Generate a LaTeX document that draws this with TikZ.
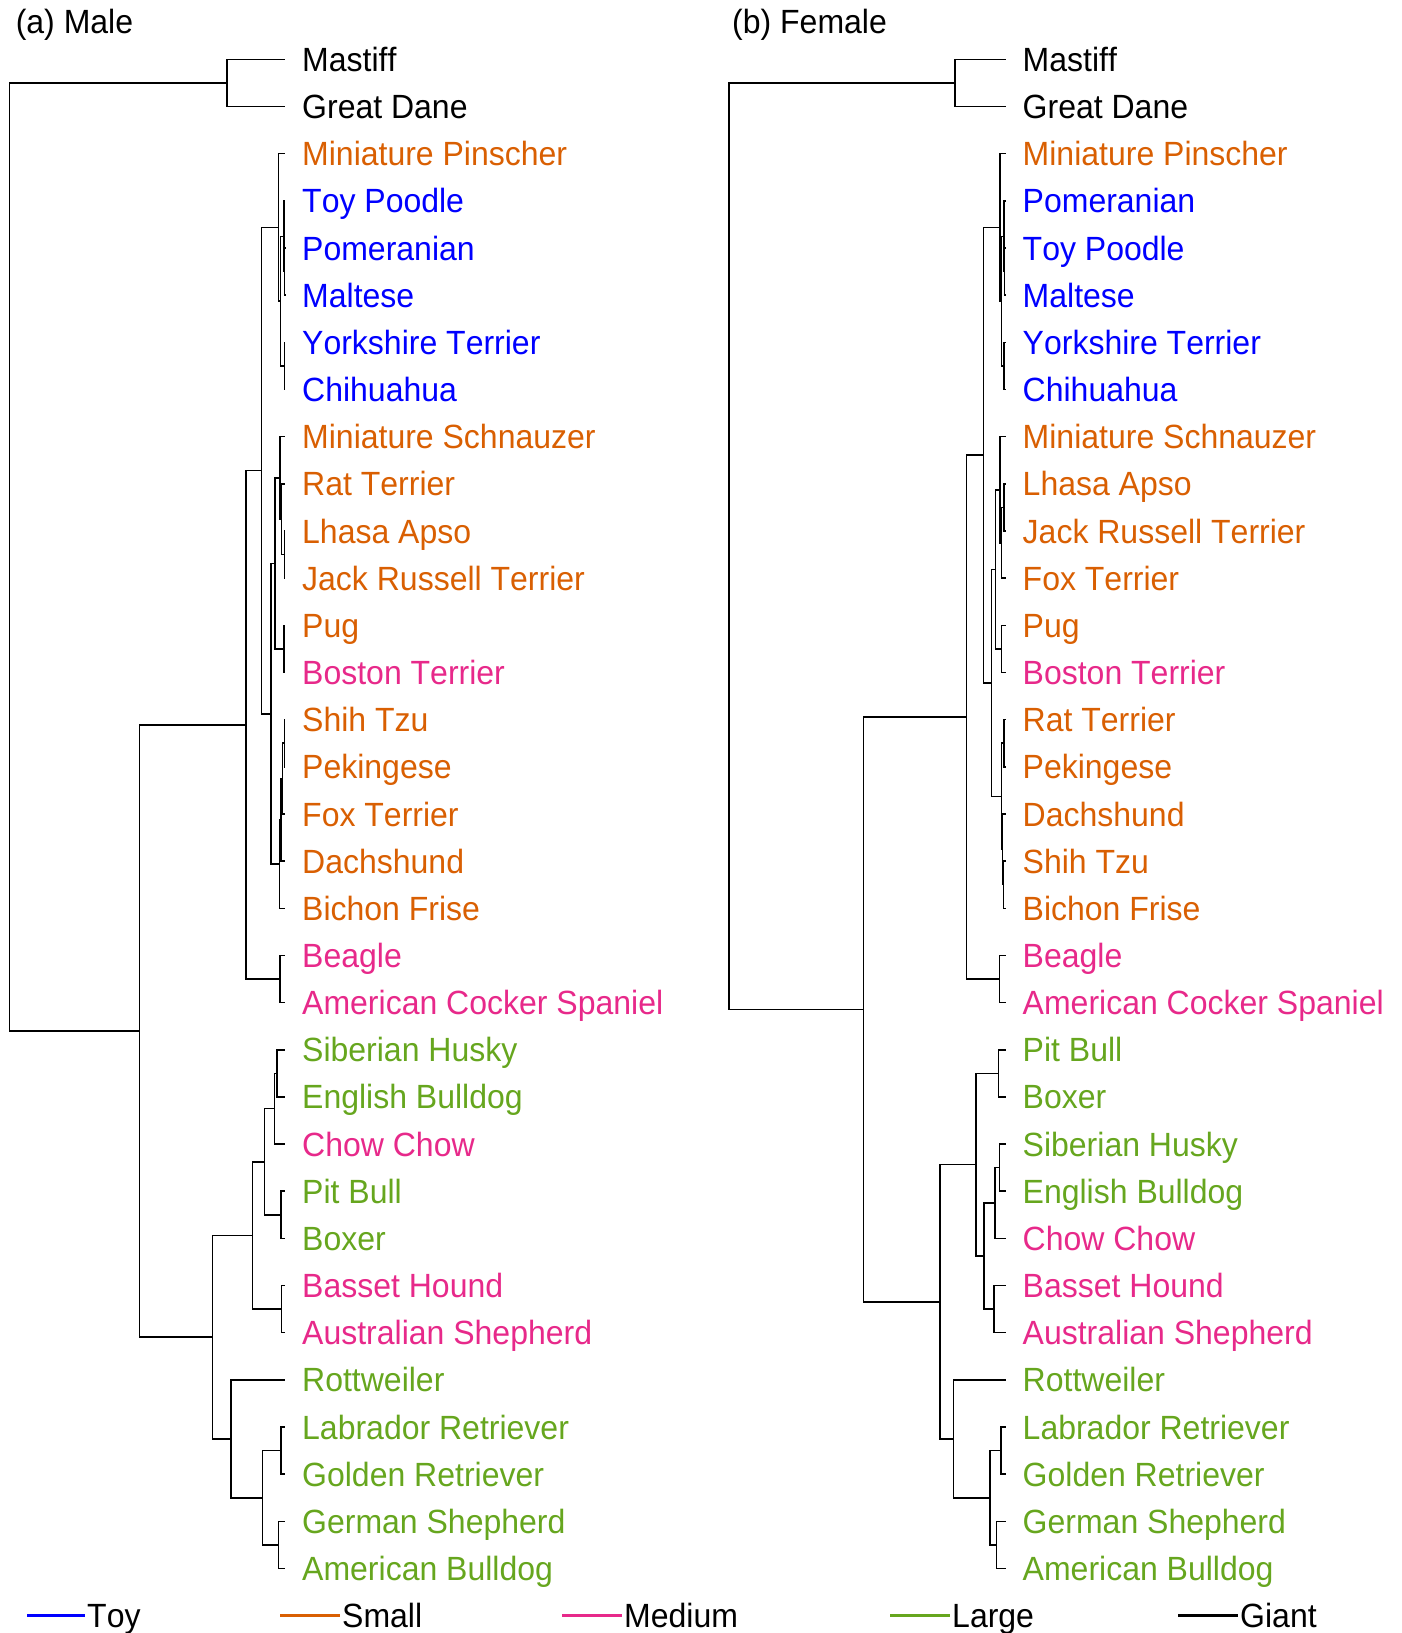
\documentclass[tikz,border=0pt]{standalone}
\usepackage{fontspec}
\setmainfont{Liberation Sans}[Kerning=Off]
\definecolor{toyc}{RGB}{0,0,255}
\definecolor{smallc}{HTML}{D95F02}
\definecolor{medc}{HTML}{E7298A}
\definecolor{largec}{HTML}{66A61E}
\newcommand\tx[1]{\scalebox{1}[1.05]{#1}}
\newcommand\dogleaf[5]{\coordinate (#1) at (#2,#3);
  \node[lab,text=#4] (#1t) at ([shift={(17pt,-12pt)}]#1) {\tx{#5}};}
\newcommand\dogjoin[3]{\draw[tree] (#1) |- (#2) (#1) |- (#3);}
\begin{document}
\begin{tikzpicture}[x=1pt,y=-1pt,
  tree/.style={line width=1.5pt,black},
  lab/.style={anchor=base west,inner sep=0pt,font=\fontsize{32}{38}\selectfont},
  legline/.style={line width=3pt}]
\useasboundingbox (0,0) rectangle (1401,1633);
% titles
\node[lab] (ta) at (15.6,33.6) {\tx{(a) Male}};
\node[lab] (tb) at (732,33.6) {\tx{(b) Female}};
% ---------------- left tree leaves
\dogleaf{L0}{285}{59.4}{black}{Mastiff}
\dogleaf{L1}{285}{106.6}{black}{Great Dane}
\dogleaf{L2}{285}{153.7}{smallc}{Miniature Pinscher}
\dogleaf{L3}{285}{200.9}{toyc}{Toy Poodle}
\dogleaf{L4}{285}{248.0}{toyc}{Pomeranian}
\dogleaf{L5}{285}{295.2}{toyc}{Maltese}
\dogleaf{L6}{285}{342.4}{toyc}{Yorkshire Terrier}
\dogleaf{L7}{285}{389.5}{toyc}{Chihuahua}
\dogleaf{L8}{285}{436.7}{smallc}{Miniature Schnauzer}
\dogleaf{L9}{285}{483.8}{smallc}{Rat Terrier}
\dogleaf{L10}{285}{531.0}{smallc}{Lhasa Apso}
\dogleaf{L11}{285}{578.2}{smallc}{Jack Russell Terrier}
\dogleaf{L12}{285}{625.3}{smallc}{Pug}
\dogleaf{L13}{285}{672.5}{medc}{Boston Terrier}
\dogleaf{L14}{285}{719.6}{smallc}{Shih Tzu}
\dogleaf{L15}{285}{766.8}{smallc}{Pekingese}
\dogleaf{L16}{285}{814.0}{smallc}{Fox Terrier}
\dogleaf{L17}{285}{861.1}{smallc}{Dachshund}
\dogleaf{L18}{285}{908.3}{smallc}{Bichon Frise}
\dogleaf{L19}{285}{955.4}{medc}{Beagle}
\dogleaf{L20}{285}{1002.6}{medc}{American Cocker Spaniel}
\dogleaf{L21}{285}{1049.8}{largec}{Siberian Husky}
\dogleaf{L22}{285}{1096.9}{largec}{English Bulldog}
\dogleaf{L23}{285}{1144.1}{medc}{Chow Chow}
\dogleaf{L24}{285}{1191.2}{largec}{Pit Bull}
\dogleaf{L25}{285}{1238.4}{largec}{Boxer}
\dogleaf{L26}{285}{1285.6}{medc}{Basset Hound}
\dogleaf{L27}{285}{1332.7}{medc}{Australian Shepherd}
\dogleaf{L28}{285}{1379.9}{largec}{Rottweiler}
\dogleaf{L29}{285}{1427.0}{largec}{Labrador Retriever}
\dogleaf{L30}{285}{1474.2}{largec}{Golden Retriever}
\dogleaf{L31}{285}{1521.4}{largec}{German Shepherd}
\dogleaf{L32}{285}{1568.5}{largec}{American Bulldog}
% left internal nodes
\coordinate (gL) at (227,83.0);
\coordinate (lPM) at (284.6,271.6);
\coordinate (lTPM) at (284.0,236.25);
\coordinate (lYC) at (284.3,365.95);
\coordinate (lTOY) at (280.7,301.1);
\coordinate (lPT) at (278.3,227.4);
\coordinate (lLJ) at (284.3,554.6);
\coordinate (lRLJ) at (281.7,519.2);
\coordinate (lSR) at (280,477.95);
\coordinate (lPB) at (284,648.9);
\coordinate (lX3) at (275,563.4);
\coordinate (lSP) at (284.3,743.2);
\coordinate (lSPF) at (282.3,778.6);
\coordinate (lSPFD) at (281,819.85);
\coordinate (lX6) at (279.7,864.1);
\coordinate (lX2) at (271,713.75);
\coordinate (lX1) at (261.7,470.6);
\coordinate (lBC) at (280,979.0);
\coordinate (lX0) at (246,724.8);
\coordinate (lHE) at (277,1073.35);
\coordinate (lHEC) at (274.3,1108.7);
\coordinate (lPiB) at (281,1214.8);
\coordinate (lM1) at (264.3,1161.75);
\coordinate (lBA) at (281.7,1309.15);
\coordinate (lM2) at (252.3,1235.45);
\coordinate (lLG) at (281,1450.6);
\coordinate (lGA) at (278.3,1544.95);
\coordinate (lRet) at (262.3,1497.8);
\coordinate (lRot) at (231,1438.85);
\coordinate (lLarge) at (212.7,1337.15);
\coordinate (lR2) at (139.6,1031.0);
\coordinate (lRoot) at (9.4,557.0);
% left connectors
\dogjoin{gL}{L0}{L1}
\dogjoin{lPM}{L4}{L5}
\dogjoin{lTPM}{L3}{lPM}
\dogjoin{lYC}{L6}{L7}
\dogjoin{lTOY}{lTPM}{lYC}
\dogjoin{lPT}{L2}{lTOY}
\dogjoin{lLJ}{L10}{L11}
\dogjoin{lRLJ}{L9}{lLJ}
\dogjoin{lSR}{L8}{lRLJ}
\dogjoin{lPB}{L12}{L13}
\dogjoin{lX3}{lSR}{lPB}
\dogjoin{lSP}{L14}{L15}
\dogjoin{lSPF}{lSP}{L16}
\dogjoin{lSPFD}{lSPF}{L17}
\dogjoin{lX6}{lSPFD}{L18}
\dogjoin{lX2}{lX3}{lX6}
\dogjoin{lX1}{lPT}{lX2}
\dogjoin{lBC}{L19}{L20}
\dogjoin{lX0}{lX1}{lBC}
\dogjoin{lHE}{L21}{L22}
\dogjoin{lHEC}{lHE}{L23}
\dogjoin{lPiB}{L24}{L25}
\dogjoin{lM1}{lHEC}{lPiB}
\dogjoin{lBA}{L26}{L27}
\dogjoin{lM2}{lM1}{lBA}
\dogjoin{lLG}{L29}{L30}
\dogjoin{lGA}{L31}{L32}
\dogjoin{lRet}{lLG}{lGA}
\dogjoin{lRot}{L28}{lRet}
\dogjoin{lLarge}{lM2}{lRot}
\dogjoin{lR2}{lX0}{lLarge}
\dogjoin{lRoot}{gL}{lR2}
% ---------------- right tree leaves
\dogleaf{R0}{1005.5}{59.4}{black}{Mastiff}
\dogleaf{R1}{1005.5}{106.6}{black}{Great Dane}
\dogleaf{R2}{1005.5}{153.7}{smallc}{Miniature Pinscher}
\dogleaf{R3}{1005.5}{200.9}{toyc}{Pomeranian}
\dogleaf{R4}{1005.5}{248.0}{toyc}{Toy Poodle}
\dogleaf{R5}{1005.5}{295.2}{toyc}{Maltese}
\dogleaf{R6}{1005.5}{342.4}{toyc}{Yorkshire Terrier}
\dogleaf{R7}{1005.5}{389.5}{toyc}{Chihuahua}
\dogleaf{R8}{1005.5}{436.7}{smallc}{Miniature Schnauzer}
\dogleaf{R9}{1005.5}{483.8}{smallc}{Lhasa Apso}
\dogleaf{R10}{1005.5}{531.0}{smallc}{Jack Russell Terrier}
\dogleaf{R11}{1005.5}{578.2}{smallc}{Fox Terrier}
\dogleaf{R12}{1005.5}{625.3}{smallc}{Pug}
\dogleaf{R13}{1005.5}{672.5}{medc}{Boston Terrier}
\dogleaf{R14}{1005.5}{719.6}{smallc}{Rat Terrier}
\dogleaf{R15}{1005.5}{766.8}{smallc}{Pekingese}
\dogleaf{R16}{1005.5}{814.0}{smallc}{Dachshund}
\dogleaf{R17}{1005.5}{861.1}{smallc}{Shih Tzu}
\dogleaf{R18}{1005.5}{908.3}{smallc}{Bichon Frise}
\dogleaf{R19}{1005.5}{955.4}{medc}{Beagle}
\dogleaf{R20}{1005.5}{1002.6}{medc}{American Cocker Spaniel}
\dogleaf{R21}{1005.5}{1049.8}{largec}{Pit Bull}
\dogleaf{R22}{1005.5}{1096.9}{largec}{Boxer}
\dogleaf{R23}{1005.5}{1144.1}{largec}{Siberian Husky}
\dogleaf{R24}{1005.5}{1191.2}{largec}{English Bulldog}
\dogleaf{R25}{1005.5}{1238.4}{medc}{Chow Chow}
\dogleaf{R26}{1005.5}{1285.6}{medc}{Basset Hound}
\dogleaf{R27}{1005.5}{1332.7}{medc}{Australian Shepherd}
\dogleaf{R28}{1005.5}{1379.9}{largec}{Rottweiler}
\dogleaf{R29}{1005.5}{1427.0}{largec}{Labrador Retriever}
\dogleaf{R30}{1005.5}{1474.2}{largec}{Golden Retriever}
\dogleaf{R31}{1005.5}{1521.4}{largec}{German Shepherd}
\dogleaf{R32}{1005.5}{1568.5}{largec}{American Bulldog}
% right internal nodes
\coordinate (rGiant) at (955,83.0);
\coordinate (rTM) at (1004.6,271.6);
\coordinate (rPTM) at (1004,236.25);
\coordinate (rYC) at (1004,365.95);
\coordinate (rTOY) at (1001.7,301.1);
\coordinate (rPT) at (1000,227.4);
\coordinate (rLJ) at (1004,507.4);
\coordinate (rLJF) at (1001.7,542.8);
\coordinate (rSL) at (1000,489.75);
\coordinate (rPB) at (1001.7,648.9);
\coordinate (rY3) at (995.5,569.3);
\coordinate (rRP) at (1004,743.2);
\coordinate (rSB) at (1003.3,884.7);
\coordinate (rDSB) at (1002.7,849.35);
\coordinate (rY4) at (1001.7,796.3);
\coordinate (rY2) at (991.7,682.8);
\coordinate (rY1) at (983.3,455.1);
\coordinate (rBC) at (999.3,979.0);
\coordinate (rY0) at (966.7,717.05);
\coordinate (rPiB) at (998.3,1073.35);
\coordinate (rHE) at (999.3,1167.65);
\coordinate (rHEC) at (995,1203.0);
\coordinate (rBA) at (994,1309.15);
\coordinate (rM2) at (984,1256.1);
\coordinate (rM1) at (976,1164.7);
\coordinate (rLG) at (1001,1450.6);
\coordinate (rGA) at (996.7,1544.95);
\coordinate (rRet) at (990,1497.8);
\coordinate (rRot) at (953.3,1438.85);
\coordinate (rLarge) at (940,1301.8);
\coordinate (rR2) at (863.4,1009.4);
\coordinate (rRoot) at (729,546.2);
% right connectors
\dogjoin{rGiant}{R0}{R1}
\dogjoin{rTM}{R4}{R5}
\dogjoin{rPTM}{R3}{rTM}
\dogjoin{rYC}{R6}{R7}
\dogjoin{rTOY}{rPTM}{rYC}
\dogjoin{rPT}{R2}{rTOY}
\dogjoin{rLJ}{R9}{R10}
\dogjoin{rLJF}{rLJ}{R11}
\dogjoin{rSL}{R8}{rLJF}
\dogjoin{rPB}{R12}{R13}
\dogjoin{rY3}{rSL}{rPB}
\dogjoin{rRP}{R14}{R15}
\dogjoin{rSB}{R17}{R18}
\dogjoin{rDSB}{R16}{rSB}
\dogjoin{rY4}{rRP}{rDSB}
\dogjoin{rY2}{rY3}{rY4}
\dogjoin{rY1}{rPT}{rY2}
\dogjoin{rBC}{R19}{R20}
\dogjoin{rY0}{rY1}{rBC}
\dogjoin{rPiB}{R21}{R22}
\dogjoin{rHE}{R23}{R24}
\dogjoin{rHEC}{rHE}{R25}
\dogjoin{rBA}{R26}{R27}
\dogjoin{rM2}{rHEC}{rBA}
\dogjoin{rM1}{rPiB}{rM2}
\dogjoin{rLG}{R29}{R30}
\dogjoin{rGA}{R31}{R32}
\dogjoin{rRet}{rLG}{rGA}
\dogjoin{rRot}{R28}{rRet}
\dogjoin{rLarge}{rM1}{rRot}
\dogjoin{rR2}{rY0}{rLarge}
\dogjoin{rRoot}{rGiant}{rR2}
% ---------------- legend
\coordinate (kToyA) at (27,1615);   \coordinate (kToyB) at (85,1615);
\coordinate (kSmaA) at (280,1615);  \coordinate (kSmaB) at (340,1615);
\coordinate (kMedA) at (562,1615);  \coordinate (kMedB) at (622,1615);
\coordinate (kLarA) at (890,1615);  \coordinate (kLarB) at (950,1615);
\coordinate (kGiaA) at (1178,1615); \coordinate (kGiaB) at (1238,1615);
\draw[legline,toyc] (kToyA) -- (kToyB);
\draw[legline,smallc] (kSmaA) -- (kSmaB);
\draw[legline,medc] (kMedA) -- (kMedB);
\draw[legline,largec] (kLarA) -- (kLarB);
\draw[legline,black] (kGiaA) -- (kGiaB);
\node[lab] (kToy) at (87,1627) {\tx{Toy}};
\node[lab] (kSma) at (342,1627) {\tx{Small}};
\node[lab] (kMed) at (624,1627) {\tx{Medium}};
\node[lab] (kLar) at (952,1627) {\tx{Large}};
\node[lab] (kGia) at (1240,1627) {\tx{Giant}};
\end{tikzpicture}
\end{document}
